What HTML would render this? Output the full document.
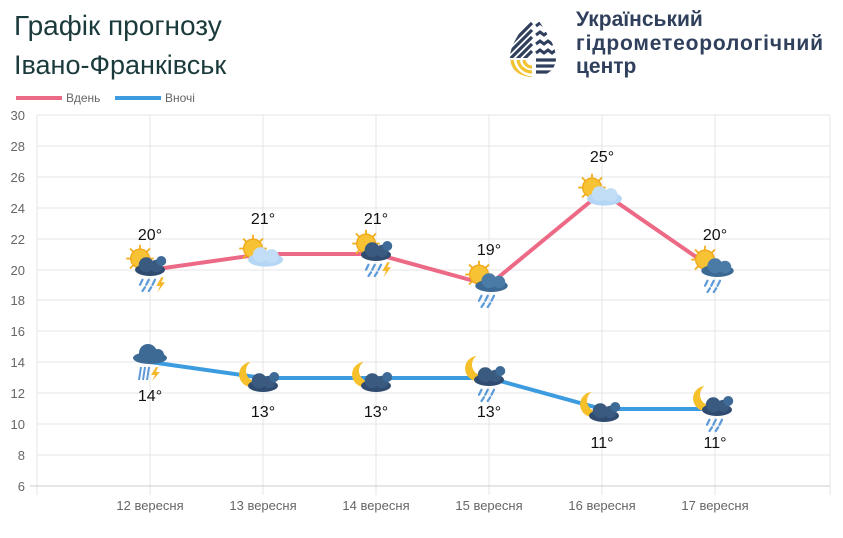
<!DOCTYPE html>
<html><head><meta charset="utf-8"><style>
body{margin:0;background:#fff;width:843px;height:533px;overflow:hidden;font-family:"Liberation Sans",sans-serif}
</style></head><body>
<svg width="843" height="533" viewBox="0 0 843 533" xmlns="http://www.w3.org/2000/svg" font-family="Liberation Sans, sans-serif">
<defs>
<clipPath id="drop"><path d="M533,12 C520,32 510,45 510,58 C510,70 520,77 533,77 C546,77 556,70 556,58 C556,45 546,32 533,12Z"/></clipPath>
<g id="sun"><g stroke="#f0b020" stroke-width="1.5"><line x1="-8" y1="-17" x2="-8" y2="5"/><line x1="-19" y1="-6" x2="3" y2="-6"/><line x1="-16" y1="-14" x2="0" y2="2"/><line x1="0" y1="-14" x2="-16" y2="2"/></g><circle cx="-8" cy="-6" r="7.5" fill="#f7c234" stroke="#f0a818"/></g>
<g id="moon"><path d="M-4,-18 A10,10 0 1 0 6,-4 A8,8 0 0 1 -4,-18Z" fill="#f5c02a" transform="translate(-6,2)"/></g>
<g id="dcloud"><ellipse cx="0" cy="3" rx="12" ry="5" fill="#2f4c70"/><circle cx="-3" cy="-1" r="6" fill="#3a5a80"/><circle cx="5" cy="0" r="5" fill="#3a5a80"/><circle cx="9" cy="-4" r="4" fill="#3d6a96"/></g>
<g id="scloud"><ellipse cx="2" cy="3" rx="13" ry="5" fill="#3d6a94"/><circle cx="0" cy="-1" r="6" fill="#4a7aa6"/><circle cx="8" cy="0" r="5" fill="#4a7aa6"/></g>
<g id="lcloud"><ellipse cx="2" cy="3" rx="14" ry="5.5" fill="#b5d6f4"/><circle cx="-2" cy="-1" r="6" fill="#c2def7"/><circle cx="7" cy="0" r="5.5" fill="#c2def7"/></g>
<g id="rain" stroke="#5d9ad8" stroke-width="1.8" stroke-linecap="round"><line x1="-6" y1="11" x2="-8" y2="15"/><line x1="-1" y1="11" x2="-3" y2="15"/><line x1="4" y1="11" x2="2" y2="15"/><line x1="-4" y1="17" x2="-6" y2="20"/><line x1="1" y1="17" x2="-1" y2="20"/></g>
<g id="bolt"><polygon points="9,9 5,16 8,16 6,21 12,13 9,13 11,9" fill="#f5b82a"/></g>
</defs>
<text x="14" y="35" font-size="28" fill="#1b3a3c">Графік прогнозу</text>
<text x="14" y="74" font-size="27" fill="#1b3a3c">Івано-Франківськ</text>
<g clip-path="url(#drop)">
<g stroke="#2f3f5c" stroke-width="3.2"><line x1="505" y1="50" x2="532" y2="23"/><line x1="505" y1="57" x2="532" y2="30"/><line x1="505" y1="64" x2="532" y2="37"/><line x1="505" y1="71" x2="532" y2="44"/><line x1="505" y1="78" x2="532" y2="51"/>
<line x1="536" y1="60" x2="560" y2="60"/><line x1="536" y1="66" x2="560" y2="66"/><line x1="536" y1="72" x2="560" y2="72"/></g>
<rect x="505" y="58" width="28" height="22" fill="#fff"/>
<path d="M536,26 l4,-3 l4,3 l4,-3 l4,3 M536,35 l4,-3 l4,3 l4,-3 l4,3 l4,-3 M536,44 l4,-3 l4,3 l4,-3 l4,3 l4,-3 M536,53 l4,-3 l4,3 l4,-3 l4,3 l4,-3" stroke="#2f3f5c" stroke-width="3" fill="none"/>
<path d="M512,60 A21,21 0 0 0 532,78 M518,60 A14,14 0 0 0 532,72 M524,60 A8,8 0 0 0 532,67" stroke="#f2c230" stroke-width="3.2" fill="none"/>
</g>
<text x="576" y="26" font-size="21" font-weight="bold" fill="#2f3f5c">Український</text>
<text x="576" y="50" font-size="21" font-weight="bold" fill="#2f3f5c" textLength="247">гідрометеорологічний</text>
<text x="576" y="73" font-size="21" font-weight="bold" fill="#2f3f5c">центр</text>
<rect x="16" y="96" width="46" height="4" fill="#ed6a87"/><text x="66" y="102" font-size="12" fill="#666">Вдень</text>
<rect x="115" y="96" width="46" height="4" fill="#3d9be0"/><text x="165" y="102" font-size="12" fill="#666">Вночі</text>
<g stroke="#e4e4e4" stroke-width="1">
<line x1="37" y1="115" x2="830" y2="115"/><line x1="37" y1="146" x2="830" y2="146"/><line x1="37" y1="177" x2="830" y2="177"/><line x1="37" y1="208" x2="830" y2="208"/><line x1="37" y1="239" x2="830" y2="239"/><line x1="37" y1="270" x2="830" y2="270"/><line x1="37" y1="300" x2="830" y2="300"/><line x1="37" y1="331" x2="830" y2="331"/><line x1="37" y1="362" x2="830" y2="362"/><line x1="37" y1="393" x2="830" y2="393"/><line x1="37" y1="424" x2="830" y2="424"/><line x1="37" y1="455" x2="830" y2="455"/>
<line x1="37" y1="115" x2="37" y2="495"/><line x1="150" y1="115" x2="150" y2="495"/><line x1="263" y1="115" x2="263" y2="495"/><line x1="376" y1="115" x2="376" y2="495"/><line x1="489" y1="115" x2="489" y2="495"/><line x1="602" y1="115" x2="602" y2="495"/><line x1="715" y1="115" x2="715" y2="495"/><line x1="830" y1="115" x2="830" y2="495"/>
</g>
<line x1="30" y1="486" x2="830" y2="486" stroke="#ccc"/>
<g font-size="13" fill="#666" text-anchor="end">
<text x="25" y="120">30</text><text x="25" y="151">28</text><text x="25" y="182">26</text><text x="25" y="213">24</text><text x="25" y="244">22</text><text x="25" y="275">20</text><text x="25" y="305">18</text><text x="25" y="336">16</text><text x="25" y="367">14</text><text x="25" y="398">12</text><text x="25" y="429">10</text><text x="25" y="460">8</text><text x="25" y="491">6</text>
</g>
<g font-size="13" fill="#666" text-anchor="middle">
<text x="150" y="510">12 вересня</text><text x="263" y="510">13 вересня</text><text x="376" y="510">14 вересня</text><text x="489" y="510">15 вересня</text><text x="602" y="510">16 вересня</text><text x="715" y="510">17 вересня</text>
</g>
<polyline points="150,270 263,254 376,254 489,285 602,192 715,270" fill="none" stroke="#ed6a87" stroke-width="4"/>
<polyline points="150,362 263,378 376,378 489,378 602,409 715,409" fill="none" stroke="#3d9be0" stroke-width="4"/>
<g transform="translate(150,266) scale(1.25)"><use href="#sun"/><use href="#dcloud"/><use href="#rain"/><use href="#bolt"/></g>
<g transform="translate(263,256) scale(1.25)"><use href="#sun"/><use href="#lcloud"/></g>
<g transform="translate(376,251) scale(1.25)"><use href="#sun"/><use href="#dcloud"/><use href="#rain"/><use href="#bolt"/></g>
<g transform="translate(489,282) scale(1.25)"><use href="#sun"/><use href="#scloud"/><use href="#rain"/></g>
<g transform="translate(602,195) scale(1.25)"><use href="#sun"/><use href="#lcloud"/></g>
<g transform="translate(715,267) scale(1.25)"><use href="#sun"/><use href="#scloud"/><use href="#rain"/></g>
<g transform="translate(150,355)"><ellipse cx="0" cy="3" rx="17" ry="6" fill="#3d6a94"/><circle cx="-2" cy="-2" r="9" fill="#3d6a94"/><circle cx="8" cy="0" r="6" fill="#3d6a94"/>
<g stroke="#5d9ad8" stroke-width="2"><line x1="-9" y1="12" x2="-11" y2="25"/><line x1="-5" y1="12" x2="-7" y2="25"/><line x1="-1" y1="12" x2="-3" y2="25"/></g><polygon points="6,12 1,20 5,20 2,26 10,17 6,17 8,12" fill="#f5b82a"/></g>
<g transform="translate(263,382) scale(1.25)"><use href="#moon"/><use href="#dcloud"/></g>
<g transform="translate(376,382) scale(1.25)"><use href="#moon"/><use href="#dcloud"/></g>
<g transform="translate(489,376) scale(1.25)"><use href="#moon"/><use href="#dcloud"/><use href="#rain"/></g>
<g transform="translate(604,412) scale(1.25)"><use href="#moon"/><use href="#dcloud"/></g>
<g transform="translate(717,406) scale(1.25)"><use href="#moon"/><use href="#dcloud"/><use href="#rain"/></g>
<g font-size="16" fill="#111" text-anchor="middle">
<text x="150" y="240">20°</text><text x="263" y="224">21°</text><text x="376" y="224">21°</text><text x="489" y="255">19°</text><text x="602" y="162">25°</text><text x="715" y="240">20°</text>
<text x="150" y="401">14°</text><text x="263" y="417">13°</text><text x="376" y="417">13°</text><text x="489" y="417">13°</text><text x="602" y="448">11°</text><text x="715" y="448">11°</text>
</g>
</svg>
</body></html>
